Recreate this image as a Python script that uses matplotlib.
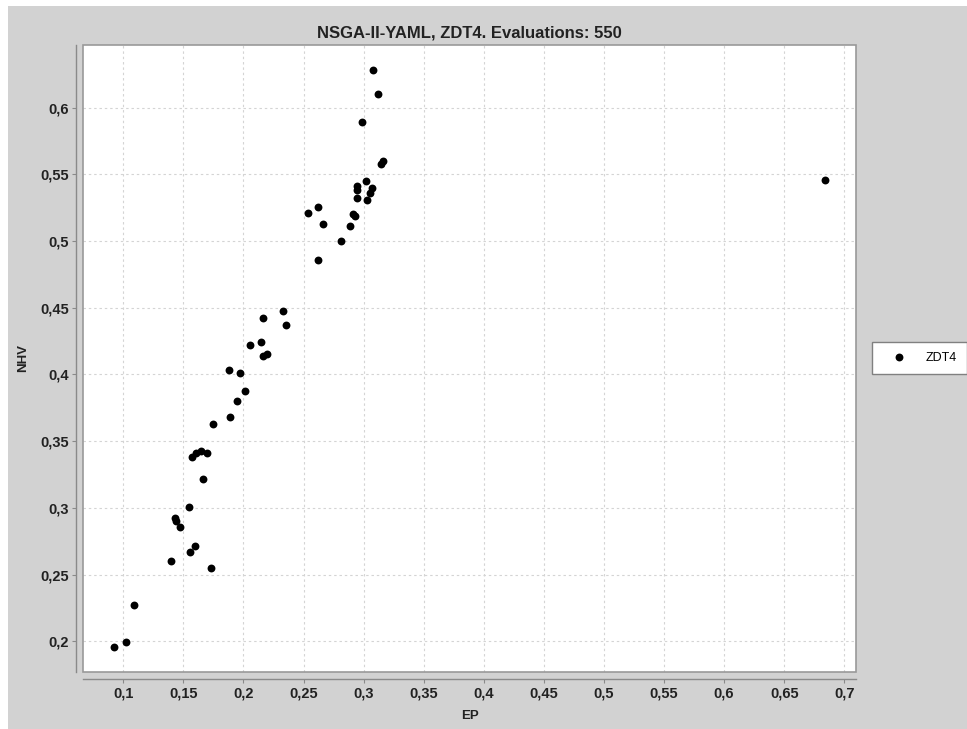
"""Scatter of NHV against EP for NSGA-II-YAML on ZDT4 (JFreeChart look)
"""

import matplotlib
matplotlib.use('Agg')
import matplotlib.pyplot as plt
from matplotlib.patches import Rectangle
from matplotlib.ticker import MultipleLocator, FuncFormatter

# EP / NHV pairs
ep = [0.308, 0.3117, 0.2984, 0.3159, 0.3144, 0.302, 0.2942, 0.2942, 0.2942,
      0.3067, 0.3053, 0.303, 0.2915, 0.2925, 0.2887, 0.2814, 0.2537, 0.2623,
      0.2664, 0.2617, 0.2329, 0.2354, 0.216, 0.2143, 0.2054, 0.2165, 0.2198,
      0.1877, 0.1969, 0.2013, 0.1946, 0.1885, 0.1749, 0.1569, 0.1605, 0.1644,
      0.1699, 0.1661, 0.1549, 0.1428, 0.1436, 0.1472, 0.1597, 0.1555, 0.1394,
      0.1732, 0.1089, 0.102, 0.0925, 0.684]
nhv = [0.628, 0.610, 0.589, 0.5603, 0.5576, 0.5448, 0.5415, 0.5383, 0.5325,
       0.5398, 0.5358, 0.5308, 0.5200, 0.5185, 0.5111, 0.4999, 0.5208, 0.5253,
       0.513, 0.486, 0.4476, 0.4371, 0.4421, 0.4241, 0.4219, 0.4139, 0.4156,
       0.4031, 0.4011, 0.3876, 0.3801, 0.3679, 0.3629, 0.3384, 0.3409, 0.3427,
       0.3414, 0.3217, 0.3009, 0.2927, 0.29, 0.2859, 0.2714, 0.2667, 0.2604,
       0.2547, 0.2272, 0.1997, 0.1957, 0.546]
series_name = 'ZDT4'
title = 'NSGA-II-YAML, ZDT4. Evaluations: 550'

W, H = 967, 729
bg = '#d2d2d2'
axis_grey = '#8a8a8a'
font = 'Liberation Sans'

fig = plt.figure(figsize=(W / 100, H / 100), dpi=100, facecolor='white')
# grey panel, leaving a thin white strip on top and left
fig.add_artist(Rectangle((8 / W, 0), 1, (H - 6) / H, transform=fig.transFigure,
                         facecolor=bg, edgecolor='none', zorder=-5))

# plot area in pixels: left 83, right 856, top 45, bottom 672
ax = fig.add_axes([83.3 / W, 1 - 671.7 / H, (855.7 - 83.3) / W, (671.7 - 45) / H])
ax.set_facecolor('white')

ax.scatter(ep, nhv, s=32, color='black', linewidths=0, zorder=3, label=series_name)

ax.set_xlim(0.0667, 0.7095)
ax.set_ylim(0.1772, 0.647)
ax.xaxis.set_major_locator(MultipleLocator(0.05))
ax.yaxis.set_major_locator(MultipleLocator(0.05))
fmt = FuncFormatter(lambda v, pos: f'{round(v, 3):g}'.replace('.', ','))
ax.xaxis.set_major_formatter(fmt)
ax.yaxis.set_major_formatter(fmt)

ax.grid(True, color='#d4d4d4', linestyle=(0, (2.2, 2.6)), linewidth=0.8, zorder=0)

# axis lines sit a few pixels outside the plot area
for side in ['top', 'right']:
    ax.spines[side].set_visible(False)
for side in ['left', 'bottom']:
    ax.spines[side].set_position(('outward', 5))
    ax.spines[side].set_color(axis_grey)
    ax.spines[side].set_linewidth(1.0)
ax.add_artist(Rectangle((0, 0), 1, 1, transform=ax.transAxes, fill=False,
                        edgecolor='#999999', linewidth=1.2, clip_on=False, zorder=4))

ax.tick_params(axis='both', direction='out', length=3, width=0.8, color=axis_grey,
               labelsize=10.5, labelcolor='#222222')
ax.tick_params(axis='x', pad=3)
ax.tick_params(axis='y', pad=2.5)
for lbl in ax.get_xticklabels() + ax.get_yticklabels():
    lbl.set_fontweight('bold')
    lbl.set_fontfamily(font)

ax.set_xlabel('EP', fontsize=9.5, fontweight='bold', family=font, va='center',
              color='#222222')
ax.xaxis.set_label_coords(0.5, (671.7 - 716) / (671.7 - 45))
ax.set_ylabel('NHV', fontsize=9.5, fontweight='bold', family=font, va='center',
              color='#222222')
ax.yaxis.set_label_coords((23 - 83.3) / (855.7 - 83.3), 0.5)

fig.text(469.5 / W, 1 - 33 / H, title, ha='center', va='center', fontsize=12,
         fontweight='bold', family=font, color='#222222')

leg = fig.legend(loc='center left', bbox_to_anchor=(872 / W, 1 - 357.5 / H),
                 frameon=True, fancybox=False, framealpha=1, edgecolor='#808080',
                 borderaxespad=0, borderpad=0.8, handlelength=2.7, handletextpad=0.8,
                 prop={'family': font, 'size': 9})
leg.get_frame().set_linewidth(1.0)

fig.savefig('out.png', dpi=100, facecolor=fig.get_facecolor())
